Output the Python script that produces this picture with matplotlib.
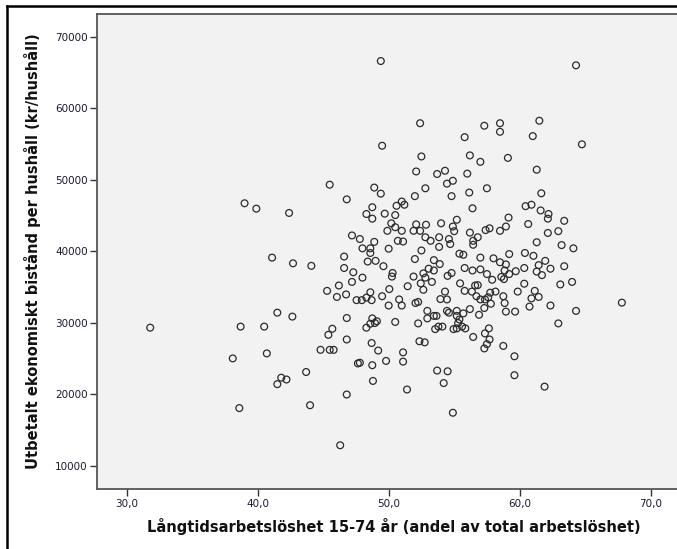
import matplotlib
matplotlib.use("Agg")
import matplotlib.pyplot as plt
from matplotlib.lines import Line2D

# Långtidsarbetslöshet (x) och utbetalt bistånd (y)
lang_arb = [
    49.4, 64.3, 52.4, 57.3, 58.5, 58.5, 61.5, 61.0, 64.75, 49.5,
    55.8, 52.5, 56.2, 57.0, 59.1, 52.1, 54.3, 53.7, 54.9, 56.0,
    61.3, 45.5, 48.9, 49.4, 52.8, 52.0, 54.8, 57.5, 56.15, 61.65,
    46.8, 39.0, 39.9, 42.4, 50.6, 51.0, 51.2, 48.75, 48.3, 48.75,
    49.7, 50.5, 56.4, 60.45, 60.9, 61.6, 62.2, 62.15, 59.15, 63.4,
    60.65, 50.2, 50.5, 49.9, 51.0, 52.1, 51.9, 54.0, 52.85, 52.4,
    55.2, 54.9, 55.0, 56.2, 57.4, 57.7, 58.5, 58.95, 62.15, 62.95,
    47.2, 47.8, 48.9, 50.7, 51.1, 52.8, 53.2, 53.85, 54.6, 54.7,
    56.45, 56.8, 56.45, 61.3, 63.2, 64.1, 48.0, 48.6, 48.6, 50.0,
    52.5, 55.4, 55.7, 57.0, 58.0, 59.2, 60.4, 61.05, 41.1, 42.7,
    44.1, 46.6, 46.6, 48.4, 49.0, 49.6, 52.0, 53.45, 53.9, 53.05,
    53.45, 55.8, 56.4, 57.0, 57.5, 58.5, 58.95, 58.85, 59.7, 60.35,
    61.45, 61.95, 61.3, 61.7, 62.35, 63.4, 47.3, 50.3, 50.25, 51.9,
    52.65, 52.8, 54.5, 54.8, 57.9, 58.6, 58.8, 59.2, 45.3, 46.2,
    47.2, 48.0, 51.45, 52.45, 53.3, 55.45, 56.6, 56.8, 60.35, 63.1,
    64.0, 50.05, 52.65, 54.3, 55.8, 56.35, 57.75, 58.15, 59.85, 61.15,
    48.6, 46.05, 46.75, 47.55, 47.95, 48.3, 48.7, 50.8, 52.05, 52.25,
    53.95, 54.45, 56.7, 57.0, 57.35, 57.6, 58.75, 58.85, 57.8, 60.9,
    61.45, 67.8, 62.35, 60.75, 51.0, 50.0, 56.2, 57.3, 55.2, 55.7,
    54.45, 54.6, 52.95, 53.45, 53.65, 56.9, 58.95, 59.65, 64.3, 41.5,
    42.65, 46.8, 48.75, 49.1, 48.95, 50.5, 52.95, 52.25, 55.2, 55.4,
    55.3, 53.55, 54.1, 53.8, 54.95, 55.2, 55.6, 55.85, 62.95, 31.8,
    38.7, 40.5, 45.7, 45.4, 48.3, 57.65, 57.35, 56.45, 57.7, 57.5,
    57.3, 58.75, 46.8, 48.7, 52.35, 52.75, 44.8, 45.5, 45.8, 49.2,
    38.1, 40.7, 51.1, 59.6, 47.65, 47.8, 49.8, 48.75, 51.1, 43.7,
    53.7, 54.5, 59.6, 41.8, 42.2, 41.5, 48.8, 54.2, 51.4, 61.9,
    46.8, 38.6, 44.0, 54.9, 46.3, 54.45, 53.85, 49.5, 48.6,
]
bistand = [
    66600, 66000, 57900, 57550, 57900, 56700, 58250, 56100, 54950, 54750,
    55950, 53250, 53400, 52500, 53050, 51150, 51250, 50800, 49850, 50850,
    51400, 49300, 48900, 48050, 48800, 47700, 47700, 48800, 48200, 48100,
    47250, 46700, 45950, 45350, 46350, 46950, 46500, 46150, 45200, 44550,
    45250, 45050, 46000, 46300, 46500, 45700, 45200, 44550, 44700, 44250,
    43800, 43900, 43350, 42850, 42850, 43750, 42850, 43900, 43700, 42850,
    44400, 43450, 42800, 42600, 42950, 43200, 42850, 43450, 42550, 42800,
    42200, 41700, 41300, 41450, 41350, 41950, 41450, 41950, 41700, 41000,
    41450, 41950, 40900, 41250, 40850, 40400, 40400, 40400, 39750, 40350,
    40100, 39650, 39500, 39100, 39000, 39600, 39750, 39350, 39100, 38300,
    37950, 39250, 37650, 38550, 38650, 37900, 38900, 38750, 38200, 37550,
    37300, 37650, 37300, 37450, 36800, 38450, 38150, 37300, 37200, 37650,
    38050, 38650, 37150, 36650, 37550, 37900, 37050, 36950, 36450, 36450,
    36900, 36300, 36550, 36950, 36000, 36400, 36100, 36800, 34450, 35200,
    35700, 36300, 35100, 35500, 35700, 35500, 35200, 35250, 35450, 35350,
    35700, 34700, 34600, 34350, 34450, 34350, 34200, 34350, 34350, 34450,
    34250, 33600, 33950, 33150, 33150, 33500, 33150, 33250, 32750, 32900,
    33300, 33250, 33700, 33250, 33250, 33550, 33700, 32750, 32650, 33400,
    33600, 32800, 32400, 32250, 32400, 32400, 31900, 32050, 31650, 31300,
    31650, 31400, 31650, 30950, 30950, 31100, 31550, 31550, 31650, 31400,
    30850, 30650, 30600, 30200, 29950, 30100, 30600, 29900, 30950, 30450,
    29950, 29100, 29450, 29450, 29100, 29200, 29450, 29200, 29900, 29300,
    29450, 29450, 29150, 28300, 29300, 29200, 28500, 28000, 27650, 27000,
    26400, 26750, 27650, 27150, 27400, 27250, 26200, 26200, 26200, 26100,
    25000, 25700, 25850, 25300, 24300, 24400, 24650, 24050, 24550, 23100,
    23300, 23200, 22650, 22300, 22050, 21400, 21850, 21550, 20650, 21050,
    19950, 18050, 18450, 17400, 12850, 49450, 40600, 33700, 29850,
]

y_ticks = [10000, 20000, 30000, 40000, 50000, 60000, 70000]
x_ticks = [30, 40, 50, 60, 70]
x_ticklabels = ["30,0", "40,0", "50,0", "60,0", "70,0"]

fig = plt.figure(figsize=(6.77, 5.49), dpi=100, facecolor="white")
# axes går ut förbi högerkanten, som i originalet (bilden är beskuren)
ax = fig.add_axes([0.1437, 0.1093, 0.8755, 0.8652])
ax.set_facecolor("#f2f2f2")

ax.scatter(lang_arb, bistand, s=24, facecolors="none", edgecolors="#2b2b2b",
           linewidths=0.9, zorder=3)

ax.set_xlim(27.76, 73.0)
ax.set_ylim(6734, 73180)
ax.set_xticks(x_ticks)
ax.set_xticklabels(x_ticklabels)
ax.set_yticks(y_ticks)
ax.set_yticklabels([str(v) for v in y_ticks])

for sp in ax.spines.values():
    sp.set_color("#555555")
    sp.set_linewidth(1.3)
ax.spines["right"].set_visible(False)
ax.tick_params(direction="out", length=5, width=1, colors="#333333",
               labelsize=7.5, labelcolor="#1a1a2e", pad=2)

ax.set_xlabel("Långtidsarbetslöshet 15-74 år (andel av total arbetslöshet)",
              fontsize=10.5, fontweight="bold", color="#111111", labelpad=7)
ax.set_ylabel("Utbetalt ekonomiskt bistånd per hushåll (kr/hushåll)",
              fontsize=10.5, fontweight="bold", color="#111111", labelpad=10)

# yttre svart ram (topp och vänster syns i bilden)
fig.add_artist(Line2D([0.0103, 1.0], [0.989, 0.989], color="black", lw=1.8,
                      transform=fig.transFigure))
fig.add_artist(Line2D([0.0103, 0.0103], [0.0, 0.989], color="black", lw=1.8,
                      transform=fig.transFigure))

fig.savefig("out.png", dpi=100)
